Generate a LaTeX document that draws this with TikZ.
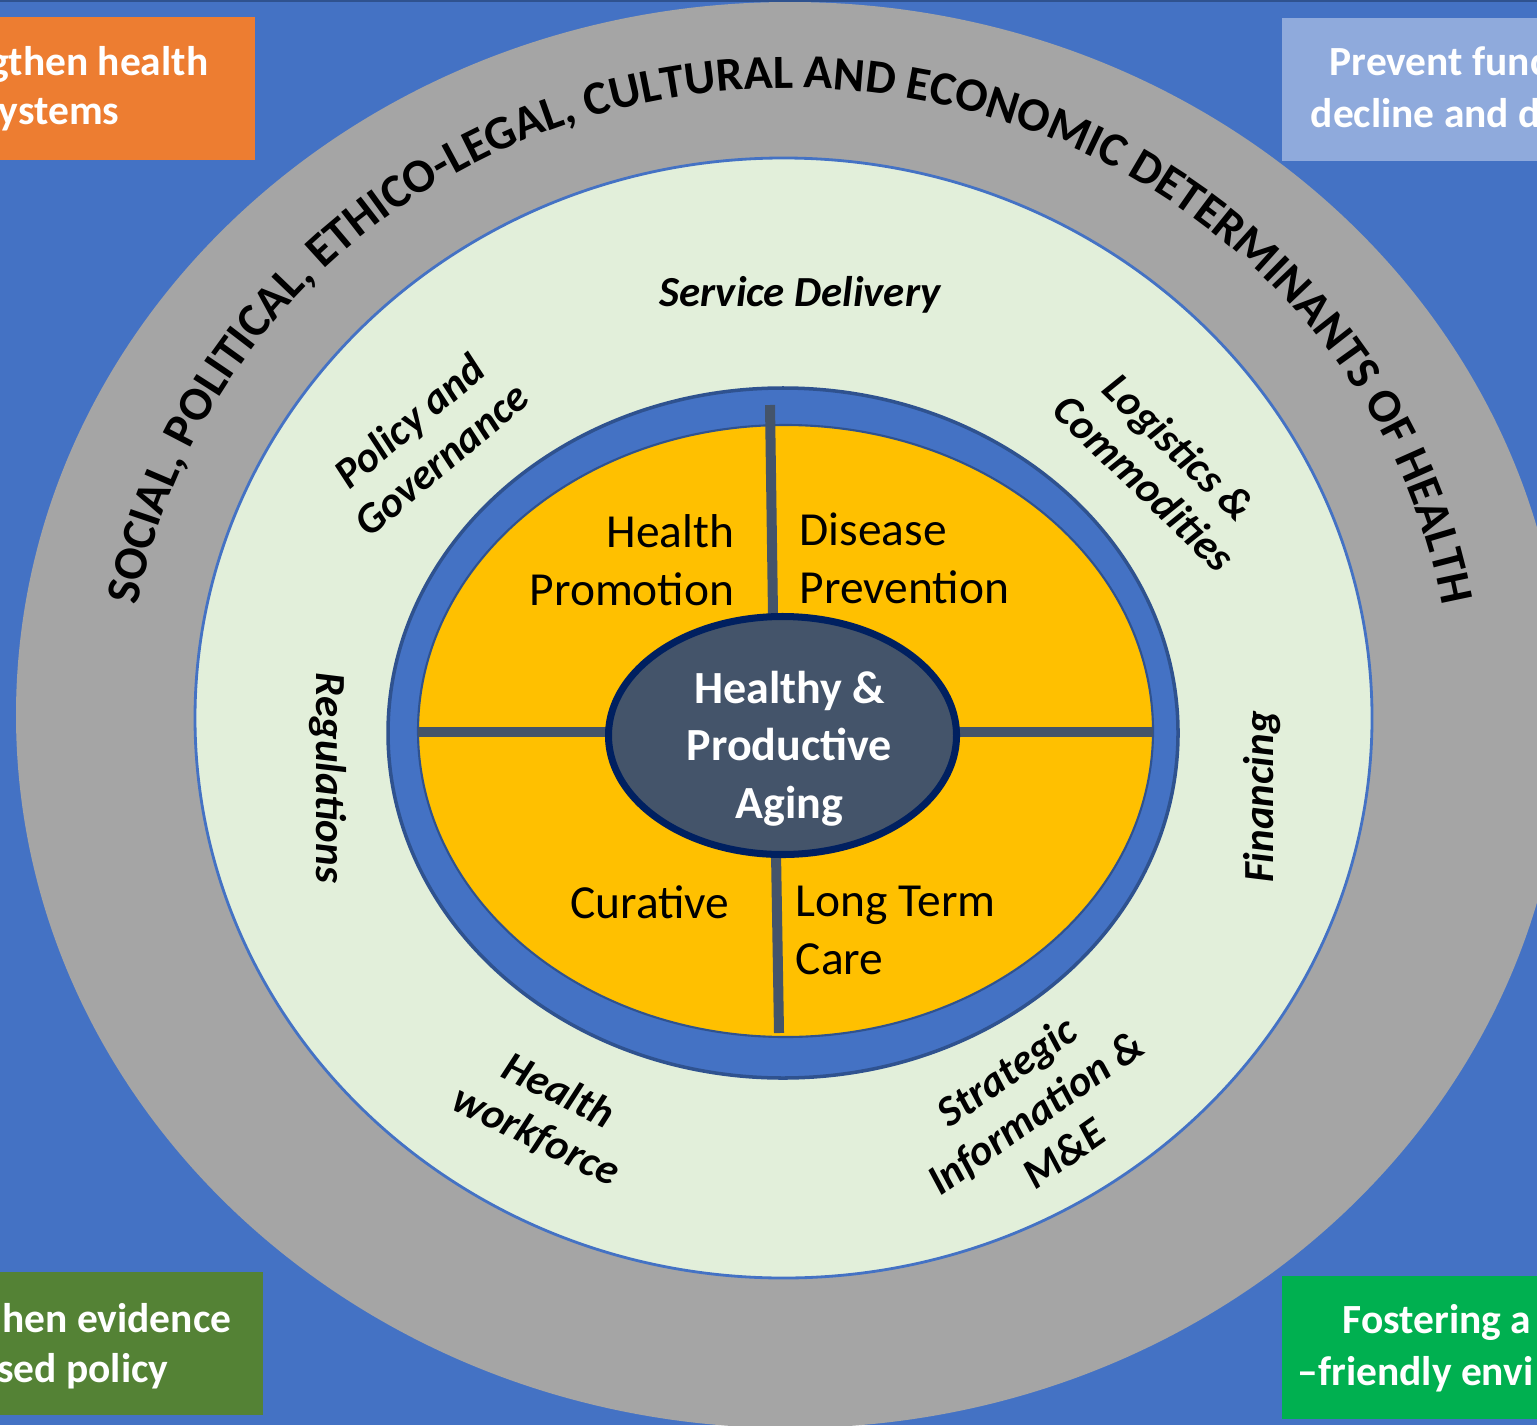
\documentclass[tikz,border=0pt]{standalone}
\usepackage{fontspec}
\setmainfont{Carlito}
\usetikzlibrary{shapes.geometric,decorations.text}
\definecolor{bgblue}{HTML}{4472C4}
\definecolor{edgeblue}{HTML}{2F528F}
\definecolor{ringgray}{HTML}{A5A5A5}
\definecolor{palegreen}{HTML}{E2EFDA}
\definecolor{gold}{HTML}{FFC000}
\definecolor{slate}{HTML}{44546A}
\definecolor{navy}{HTML}{002060}
\definecolor{boxorange}{HTML}{ED7D31}
\definecolor{boxsky}{HTML}{8FAADC}
\definecolor{boxmoss}{HTML}{548235}
\definecolor{boxgreen}{HTML}{00B050}

\begin{document}
\begin{tikzpicture}[
  boxtext/.style={text=white, inner sep=0pt, font=\fontsize{11.8}{14.2}\selectfont\bfseries},
  quad/.style={inner sep=0pt, font=\fontsize{13.5}{16.5}\selectfont},
  pillar/.style={inner sep=0pt, align=center, font=\fontsize{12.2}{14.2}\selectfont\bfseries\itshape},
  bar/.style={draw=slate, line width=2.85pt}
]
\pgfmathsetmacro{\W}{15.37};
\pgfmathsetmacro{\H}{14.25};
\useasboundingbox (0,0) rectangle (\W,\H);
\clip (0,0) rectangle (\W,\H);
\fill[bgblue] (0,0) rectangle (\W,\H);

% corner boxes
\fill[boxorange] (0,12.65) rectangle (2.55,14.08);
\fill[boxsky] (12.82,12.64) rectangle (\W,14.07);
\fill[boxmoss] (0,0.10) rectangle (2.63,1.53);
\fill[boxgreen] (12.82,0.06) rectangle (\W,1.49);
\node[boxtext, anchor=base east] (tl1) at (2.09,13.49) {gthen health};
\node[boxtext, anchor=base east] (tl2) at (1.20,13.00) {ystems};
\node[boxtext, anchor=base west] (tr1) at (13.29,13.49) {Prevent func};
\node[boxtext, anchor=base west] (tr2) at (13.10,12.97) {decline and d};
\node[boxtext, anchor=base east] (bl1) at (2.32,0.93) {hen evidence};
\node[boxtext, anchor=base east] (bl2) at (1.69,0.43) {sed policy};
\node[boxtext, anchor=base west] (br1) at (13.42,0.92) {Fostering a};
\node[boxtext, anchor=base west] (br2) at (12.97,0.40) {–friendly envi};

% rings
\fill[ringgray] (7.90,7.10) ellipse [x radius=7.74, y radius=7.13];
\fill[edgeblue] (0,14.23) rectangle (\W,\H);
\filldraw[fill=palegreen, draw=bgblue, line width=0.8pt] (7.835,7.07) ellipse [x radius=5.885, y radius=5.60];
\filldraw[fill=bgblue, draw=edgeblue, line width=1pt] (7.83,6.92) ellipse [x radius=3.95, y radius=3.45];
\filldraw[fill=gold, draw=edgeblue, line width=0.6pt] (7.855,6.94) ellipse [x radius=3.675, y radius=3.06];

% determinants along the grey ring
\path[decorate, decoration={text along path, text align=center,
  text={|\fontsize{13.6}{15}\selectfont\bfseries|SOCIAL, POLITICAL, ETHICO-LEGAL, CULTURAL AND ECONOMIC DETERMINANTS OF HEALTH}}]
  (7.90,7.10) ++(180:6.62 and 6.27) arc [start angle=180, end angle=0, x radius=6.62, y radius=6.27];

% cross
\draw[bar] (7.70,10.20) -- (7.73,8.10);
\draw[bar] (7.76,5.72) -- (7.79,3.92);
\draw[bar] (4.18,6.93) -- (6.12,6.93);
\draw[bar] (9.53,6.93) -- (11.53,6.93);

\node[ellipse, fill=slate, draw=navy, line width=2pt, minimum width=3.48cm, minimum height=2.38cm, inner sep=0pt] (core) at (7.825,6.895) {};
\node[text=white, align=center, inner sep=0pt, font=\fontsize{13.1}{16.3}\selectfont\bfseries] (coretext) at ([shift={(0.07,-0.13)}]core.center) {Healthy \&\\Productive\\Aging};

% quadrants
\node[quad, anchor=east, align=right] (promo) at (7.35,8.65) {Health\\Promotion};
\node[quad, anchor=west, align=left] (prevent) at (7.99,8.67) {Disease\\Prevention};
\node[quad, anchor=east] (cure) at (7.30,5.23) {Curative};
\node[quad, anchor=west, align=left] (care) at (7.95,4.95) {Long Term\\Care};

% building blocks
\node[pillar] (service) at (8.00,11.30) {Service Delivery};
\node[pillar, rotate=40] (policy) at (4.25,9.85) {Policy and\\Governance};
\node[pillar, rotate=-44] (logistics) at (11.62,9.60) {Logistics \&\\Commodities};
\node[pillar, rotate=-90] (regs) at (3.28,6.47) {Regulations};
\node[pillar, rotate=90] (finance) at (12.62,6.28) {Financing};
\node[pillar, rotate=-26] (workforce) at (5.47,3.11) {Health\\workforce};
\node[pillar, rotate=35] (info) at (10.35,3.13) {Strategic\\Information \&\\M\&E};
\end{tikzpicture}
\end{document}
